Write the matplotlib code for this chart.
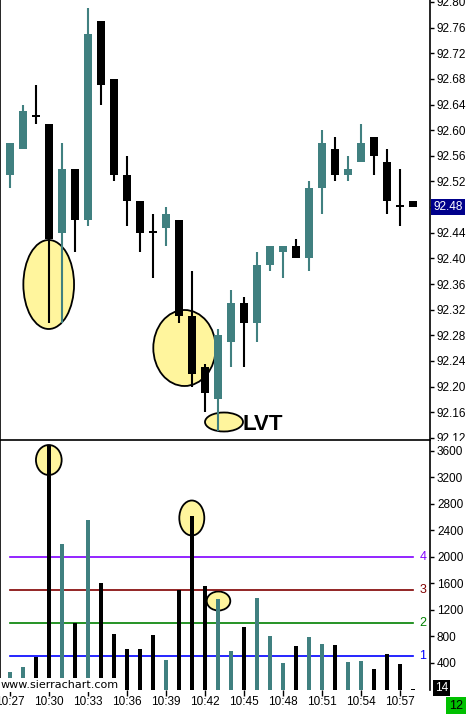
import numpy as np
import matplotlib
matplotlib.use('Agg')
import matplotlib.pyplot as plt
from matplotlib.patches import Ellipse, Rectangle

# 1-minute bars, 10:27 .. 10:58
times = ['10:%02d' % m for m in range(27, 59)]
opens = [92.53, 92.57, 92.62, 92.61, 92.44, 92.54, 92.46, 92.77, 92.68, 92.53,
         92.49, 92.44, 92.447, 92.46, 92.31, 92.23, 92.18, 92.27, 92.33, 92.30,
         92.39, 92.41, 92.42, 92.40, 92.51, 92.57, 92.53, 92.55, 92.59, 92.55,
         92.48, 92.49]
highs = [92.58, 92.64, 92.67, 92.61, 92.58, 92.54, 92.79, 92.77, 92.68, 92.56,
         92.49, 92.47, 92.48, 92.46, 92.38, 92.235, 92.29, 92.35, 92.34, 92.41,
         92.42, 92.42, 92.43, 92.52, 92.60, 92.59, 92.56, 92.61, 92.59, 92.57,
         92.54, 92.49]
lows = [92.51, 92.57, 92.61, 92.30, 92.30, 92.41, 92.45, 92.64, 92.52, 92.45,
        92.41, 92.37, 92.42, 92.30, 92.20, 92.16, 92.13, 92.23, 92.23, 92.27,
        92.38, 92.37, 92.40, 92.38, 92.47, 92.52, 92.52, 92.55, 92.53, 92.47,
        92.45, 92.48]
closes = [92.58, 92.63, 92.62, 92.43, 92.54, 92.46, 92.75, 92.67, 92.53, 92.49,
          92.44, 92.44, 92.47, 92.31, 92.22, 92.19, 92.28, 92.33, 92.30, 92.39,
          92.42, 92.42, 92.40, 92.51, 92.58, 92.53, 92.54, 92.58, 92.56, 92.49,
          92.48, 92.48]
volumes = [270, 345, 495, 3690, 2195, 1000, 2558, 1612, 842, 611,
           611, 822, 445, 1500, 2617, 1560, 1361, 581, 943, 1380,
           807, 400, 656, 792, 687, 671, 415, 430, 309, 536,
           385, 14]

level_values = [500, 1000, 1500, 2000]
level_labels = ['1', '2', '3', '4']
level_colors = ['#0000ff', '#008000', '#800000', '#8000ff']

price_ticks = np.round(np.arange(92.12, 92.81, 0.04), 2)
vol_ticks = np.arange(400, 3601, 400)
last_price = 92.48

TEAL = '#408080'
YELLOW = '#fff59d'
W, H = 467, 714

plt.rcParams['font.family'] = ['Liberation Sans', 'DejaVu Sans']
fig = plt.figure(figsize=(W / 100, H / 100), dpi=100)

def fx(px):
    return px / W

def fy(py):
    return 1 - py / H

# pixel -> data helpers (13 px per bar, 641 px per price unit)
def px2x(px):
    return (px - 10) / 13

def py2p(py):
    return 92.80 - (py - 2) / 641

def vy(py):
    return (689.5 - py) * 15.09

ax = fig.add_axes([0, fy(440), fx(430), 440 / H])
axv = fig.add_axes([0, fy(689.5), fx(430), (689.5 - 441) / H])

x = np.arange(len(times))
up = np.array(closes) > np.array(opens)
colors = [TEAL if u else 'black' for u in up]

# price candles
body_lo = np.minimum(opens, closes)
body_h = np.maximum(np.abs(np.array(closes) - np.array(opens)), 0.003)
ax.vlines(x, lows, highs, colors=colors, linewidth=1.5, zorder=3)
ax.bar(x, body_h, bottom=body_lo, width=0.62, color=colors, zorder=4)

ax.set_xlim(-10 / 13, 420 / 13)
ax.set_ylim(92.80 - 438 / 641, 92.80 + 2 / 641)
ax.yaxis.tick_right()
ax.set_yticks(price_ticks)
# the last-price box sits on top of the 92.48 tick
ax.set_yticklabels(['' if abs(t - last_price) < 1e-6 else '%.2f' % t for t in price_ticks])
ax.tick_params(axis='y', direction='out', length=3, width=1, labelsize=8.5, pad=2)
ax.set_xticks([])
ax.spines['top'].set_visible(False)
for s in ['left', 'right', 'bottom']:
    ax.spines[s].set_linewidth(1.2)

# highlight ellipses (price)
for cx, cy, w, h in [(48.7, 284.5, 50.7, 89), (184.5, 348, 62.4, 76), (224, 422, 38, 19)]:
    ax.add_patch(Ellipse((px2x(cx), py2p(cy)), w / 13, h / 641,
                         facecolor=YELLOW, edgecolor='black', linewidth=1.3, zorder=2))

ax.text(px2x(242), py2p(425), 'LVT', fontsize=16, fontweight='bold',
        ha='left', va='center', zorder=5)

ax.text(1.008, last_price, '%.2f' % last_price, transform=ax.get_yaxis_transform(),
        color='white', fontsize=8.5, va='center', ha='left', zorder=6,
        bbox=dict(boxstyle='square,pad=0.2', facecolor='#00008b', edgecolor='none'))

# volume panel
axv.bar(x, volumes, width=0.24, color=colors, zorder=3)
for v, lab, c in zip(level_values, level_labels, level_colors):
    axv.plot([0, 31], [v, v], color=c, linewidth=1.2, zorder=2)
    axv.text(px2x(423), v, lab, color=c, fontsize=9, ha='center', va='center')

axv.set_xlim(-10 / 13, 420 / 13)
axv.set_ylim(0, (689.5 - 441) * 15.09)
axv.yaxis.tick_right()
axv.set_yticks(vol_ticks)
axv.set_yticklabels([str(v) for v in vol_ticks])
axv.tick_params(axis='y', direction='out', length=3, width=1, labelsize=8.5, pad=2)
axv.set_xticks(x[::3])
axv.set_xticklabels(times[::3])
axv.tick_params(axis='x', direction='out', length=4, width=1, labelsize=8.5, pad=1)
axv.spines['top'].set_visible(False)
axv.spines['bottom'].set_visible(False)
for s in ['left', 'right']:
    axv.spines[s].set_linewidth(1.2)

for cx, cy, w, h in [(48.8, 460, 25.7, 30), (191.8, 518, 25, 35), (218.5, 601, 23.6, 19)]:
    axv.add_patch(Ellipse((px2x(cx), vy(cy)), w / 13, h * 15.09,
                          facecolor=YELLOW, edgecolor='black', linewidth=1.3, zorder=1))

axv.text(1.012, vy(688), '14', transform=axv.get_yaxis_transform(),
         color='white', fontsize=8.5, va='center', ha='left', zorder=6,
         bbox=dict(boxstyle='square,pad=0.15', facecolor='black', edgecolor='none'))

fig.text(fx(1), fy(685), 'www.sierrachart.com', family='DejaVu Sans', fontsize=8,
         ha='left', va='center', zorder=10,
         bbox=dict(boxstyle='square,pad=0.15', facecolor='white', edgecolor='none'))

fig.text(fx(456), fy(706), '12', fontsize=9, ha='center', va='center', zorder=10,
         bbox=dict(boxstyle='square,pad=0.25', facecolor='#00c000', edgecolor='none'))

# panel clip: only the top of the 92.12 label shows
fig.patches.append(Rectangle((fx(431), fy(446)), fx(36), 5.5 / H, transform=fig.transFigure,
                             facecolor='white', edgecolor='none', zorder=5))

fig.savefig('out.png', dpi=100)
